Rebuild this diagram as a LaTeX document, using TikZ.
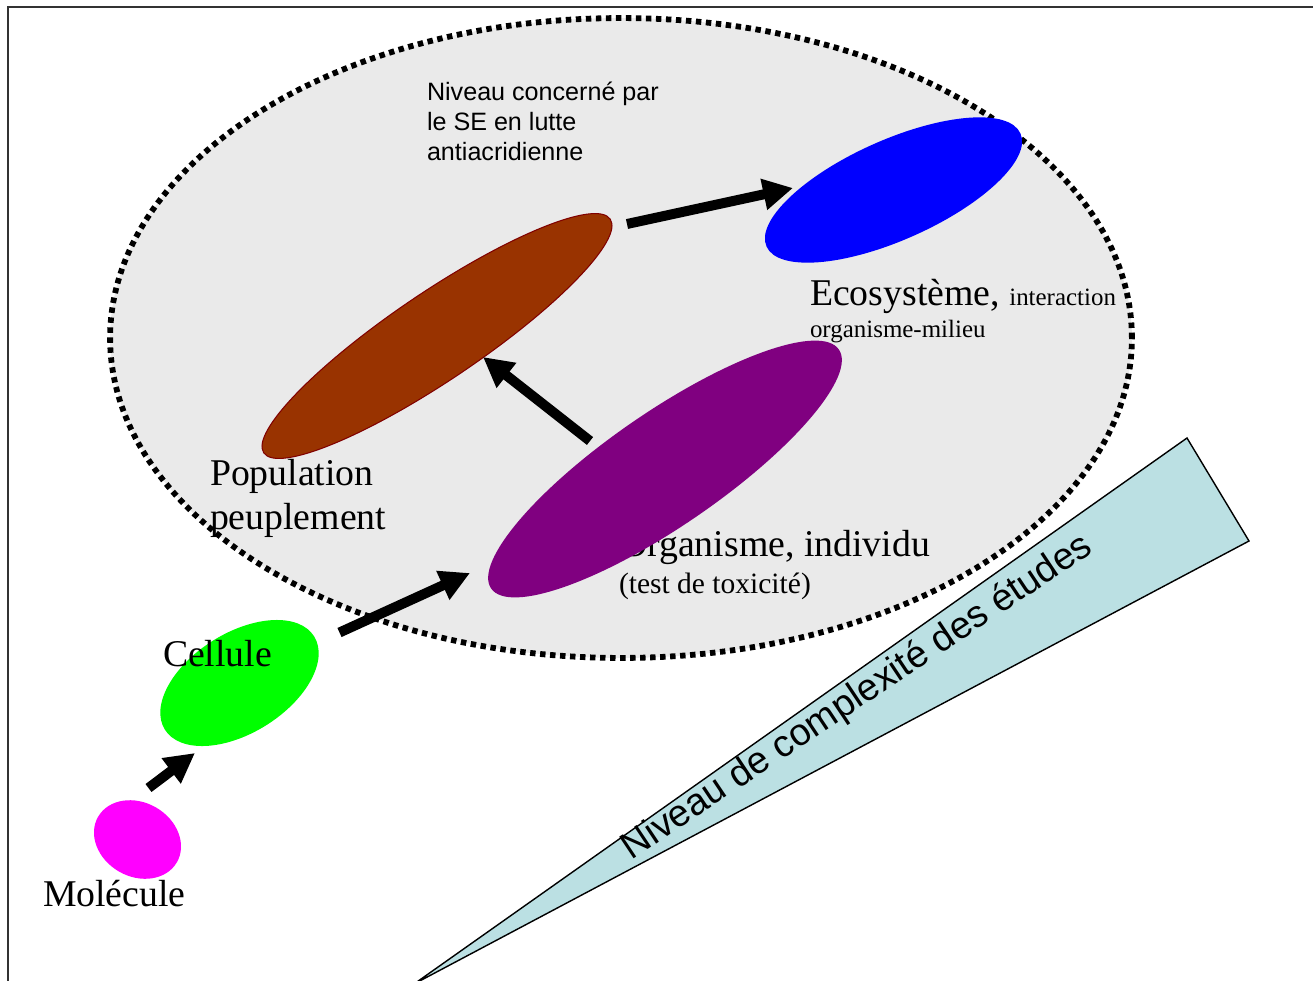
\documentclass[tikz,border=0pt]{standalone}
\usepackage{fontspec}
\setmainfont{Liberation Serif}
\newfontfamily\arialf{Liberation Sans}
\usetikzlibrary{shapes.geometric, arrows.meta}
\definecolor{bgGray}{HTML}{EAEAEA}
\definecolor{brownE}{HTML}{993300}
\definecolor{brownD}{HTML}{800000}
\definecolor{purpleE}{HTML}{800080}
\definecolor{blueE}{HTML}{0000FF}
\definecolor{greenE}{HTML}{00FF00}
\definecolor{magE}{HTML}{FF00FF}
\definecolor{wedgeC}{HTML}{BBE0E3}
\definecolor{frameC}{HTML}{333333}
\begin{document}
\begin{tikzpicture}[x=0.02cm, y=-0.02cm,
  blob/.style={ellipse, inner sep=0pt, outer sep=0pt, draw=none},
  bigarrow/.style={line width=5.67pt, -{Triangle[length=17pt,width=17pt]}},
  lbl/.style={inner sep=0pt, outer sep=0pt, anchor=base west},
  bigtxt/.style={lbl, font=\fontsize{21.5}{25}\selectfont},
  midtxt/.style={lbl, font=\fontsize{16.8}{20}\selectfont},
  smalltxt/.style={lbl, font=\fontsize{14.2}{17}\selectfont},
  sanstxt/.style={lbl, font=\arialf\fontsize{14.3}{17}\selectfont}]
\useasboundingbox (0,0) rectangle (1313,981);
\clip (0,0) rectangle (1313,981);
% frame
\draw[frameC, line width=1.1pt] (1313,7) -- (8,7) -- (8,990);
% big dotted ellipse
\node[blob, fill=bgGray, draw=black, line width=3.3pt, dash pattern=on 3.1pt off 2.6pt,
  minimum width=20.44cm, minimum height=12.8cm] (zone) at (621,338) {};
% texts inside
\node[sanstxt] (t1) at (427,100) {Niveau concerné par};
\node[sanstxt] (t2) at (427,130) {le SE en lutte};
\node[sanstxt] (t3) at (427,160) {antiacridienne};
\node[bigtxt] (pop1) at (210,485) {Population};
\node[bigtxt] (pop2) at (210,529) {peuplement};
\node[bigtxt] (eco1) at (810,305) {Ecosystème, {\fontsize{14.2}{17}\selectfont interaction}};
\node[smalltxt] (eco2) at (810,337) {organisme-milieu};
\node[bigtxt, anchor=base east] (org1) at (930,556) {Organisme, individu};
\node[midtxt] (org2) at (619,593) {(test de toxicité)};
% ellipses
\node[blob, fill=brownE, draw=brownD, line width=0.6pt, minimum width=8.36cm, minimum height=1.76cm, rotate=34] (pop) at (437,336) {};
\node[blob, fill=blueE, minimum width=5.56cm, minimum height=2.0cm, rotate=24] (eco) at (893.5,190) {};
\node[blob, fill=purpleE, minimum width=8.44cm, minimum height=2.28cm, rotate=34.5] (org) at (665,469) {};
\node[blob, fill=greenE, minimum width=3.52cm, minimum height=2.0cm, rotate=32] (cel) at (239.5,683) {};
\node[blob, fill=magE, minimum width=1.82cm, minimum height=1.48cm, rotate=-30] (mol) at (137.5,839.5) {};
\node[bigtxt] (celt) at (163,666) {Cellule};
\node[bigtxt] (molt) at (43,906) {Molécule};
% arrow ends
\coordinate (a1s) at (148.5,788);
\coordinate (a1e) at (195,753);
\coordinate (a2s) at (339.5,632.5);
\coordinate (a2e) at (470,573);
\coordinate (a3s) at (590,441);
\coordinate (a3e) at (483,357);
\coordinate (a4s) at (627,224);
\coordinate (a4e) at (793,188);
\draw[bigarrow] (a1s) -- (a1e);
\draw[bigarrow] (a2s) -- (a2e);
\draw[bigarrow] (a3s) -- (a3e);
\draw[bigarrow] (a4s) -- (a4e);
% wedge
\coordinate (w1) at (414,984);
\coordinate (w2) at (1187,438);
\coordinate (w3) at (1249,541);
\draw[fill=wedgeC, draw=black, line width=0.8pt, line join=miter] (w1) -- (w2) -- (w3) -- cycle;
\node[inner sep=0pt, anchor=base, rotate=33.7, font=\arialf\fontsize{21.5}{25}\selectfont] (wt) at (863,706) {Niveau de complexité des études};
\end{tikzpicture}
\end{document}
